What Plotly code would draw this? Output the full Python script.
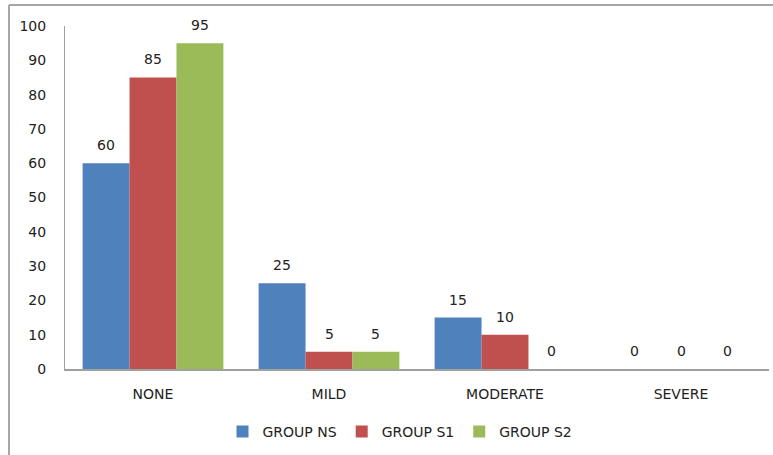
import plotly.graph_objects as go

categories = ["NONE", "MILD", "MODERATE", "SEVERE"]
series_names = ["GROUP NS", "GROUP S1", "GROUP S2"]
group_ns = [60, 25, 15, 0]
group_s1 = [85, 5, 10, 0]
group_s2 = [95, 5, 0, 0]
y_ticks = [0, 10, 20, 30, 40, 50, 60, 70, 80, 90, 100]

colors = ["#4F81BD", "#C0504D", "#9BBB59"]
series_values = [group_ns, group_s1, group_s2]

W, H = 773, 455
ML, MR, MT, MB = 65, 4, 26, 86
plot_w = W - ML - MR
plot_h = H - MT - MB
bargap = 0.2
font = dict(family="DejaVu Sans", size=14, color="#222222")

fig = go.Figure()
for name, vals, col in zip(series_names, series_values, colors):
    fig.add_trace(go.Bar(x=categories, y=vals, name=name, marker=dict(color=col, line=dict(width=0))))

# value labels above each bar
cat_w = plot_w / len(categories)
bar_w = cat_w * (1 - bargap) / len(series_values)
annotations = []
for i, vals in enumerate(series_values):
    for c, v in zip(categories, vals):
        annotations.append(dict(
            x=c, y=v, xref="x", yref="y", text=str(v), showarrow=False,
            xshift=(i - 1) * bar_w, yshift=18, font=font,
        ))

# outer frame (left and top edges visible)
fx0 = (9 - ML) / plot_w
fy1 = 1 + (MT - 5) / plot_h
shapes = [
    dict(type="line", xref="paper", yref="paper", x0=fx0, x1=fx0, y0=-(MB + 10) / plot_h, y1=fy1,
         line=dict(color="#A6A6A6", width=2)),
    dict(type="line", xref="paper", yref="paper", x0=fx0, x1=1 + (MR + 10) / plot_w, y0=fy1, y1=fy1,
         line=dict(color="#A6A6A6", width=2)),
]

fig.update_layout(
    width=W, height=H,
    margin=dict(l=ML, r=MR, t=MT, b=MB, pad=0),
    paper_bgcolor="white", plot_bgcolor="white",
    barmode="group", bargap=bargap, bargroupgap=0,
    font=font,
    showlegend=True,
    legend=dict(orientation="h", x=(400 - ML) / plot_w, xanchor="center",
                y=-(432 - (MT + plot_h)) / plot_h, yanchor="middle",
                font=font, itemwidth=30, traceorder="normal"),
    annotations=annotations,
    shapes=shapes,
    xaxis=dict(showline=True, linecolor="#A0A0A0", linewidth=2, ticks="outside",
               ticklen=11, tickcolor="rgba(0,0,0,0)", showgrid=False, tickfont=font),
    yaxis=dict(range=[0, 100], tickvals=y_ticks, showline=True, linecolor="#A0A0A0", linewidth=1,
               ticks="outside", ticklen=15, tickcolor="rgba(0,0,0,0)", showgrid=False,
               zeroline=False, tickfont=font),
)

fig.write_html("out.html")
